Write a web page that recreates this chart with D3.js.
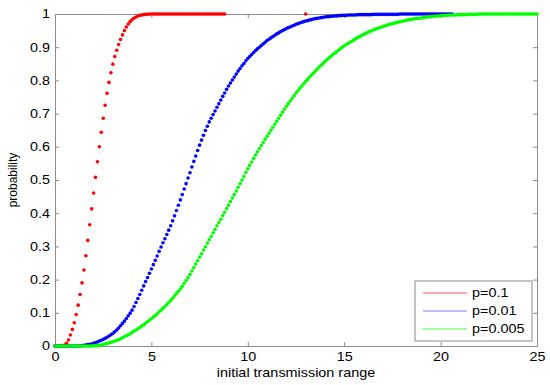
<!DOCTYPE html>
<html>
<head>
<meta charset="utf-8">
<script src="https://cdn.jsdelivr.net/npm/d3@7"></script>
<style>
  body { margin: 0; background: #fff; }
  svg { display: block; font-family: 'Liberation Sans', Arial, sans-serif; }
</style>
</head>
<body>
<div id="chart"></div>
<script>
// all three series are sampled every 0.1 along x, starting at 0
const xStep = 0.1;
const xTicks = [0, 5, 10, 15, 20, 25];
const yTicks = [0, 0.1, 0.2, 0.3, 0.4, 0.5, 0.6, 0.7, 0.8, 0.9, 1];
const seriesNames = ['p=0.1', 'p=0.01', 'p=0.005'];

// p=0.1 (null = no sample drawn)
const red = [
  0, 0, 0, 0, 0.001, 0.003, 0.008, 0.018, 0.033, 0.050,
  0.070, 0.095, 0.123, 0.155, 0.190, 0.229, 0.272, 0.318, 0.365, 0.413,
  0.461, 0.508, 0.555, 0.600, 0.644, 0.686, 0.725, 0.761, 0.794, 0.823,
  0.849, 0.872, 0.891, 0.908, 0.923, 0.937, 0.950, 0.961, 0.970, 0.977,
  0.983, 0.988, 0.991, 0.994, 0.996, 0.997, 0.998, 0.999, 0.999, 1,
  1, 1, 1, 1, 1, 1, 1, 1, 1, 1,
  1, 1, 1, 1, 1, 1, 1, 1, 1, 1,
  1, 1, 1, 1, 1, 1, 1, 1, 1, 1,
  1, 1, 1, 1, 1, 1, 1, 1, 1, null,
  null, null, null, null, null, null, null, null, null, null,
  null, null, null, null, null, null, null, null, null, null,
  null, null, null, null, null, null, null, null, null, null,
  null, null, null, null, null, null, null, null, null, null,
  1
];

// p=0.01
const blue = [
  0, 0, 0, 0, 0, 0, 0, 0, 0, 0,
  0, 0, 0, 0, 0.001, 0.002, 0.003, 0.004, 0.005, 0.006,
  0.008, 0.010, 0.012, 0.015, 0.017, 0.020, 0.023, 0.026, 0.030, 0.034,
  0.038, 0.043, 0.048, 0.054, 0.061, 0.068, 0.075, 0.083, 0.091, 0.099,
  0.108, 0.119, 0.131, 0.143, 0.155, 0.168, 0.181, 0.194, 0.206, 0.219,
  0.232, 0.245, 0.258, 0.271, 0.285, 0.298, 0.311, 0.323, 0.336, 0.349,
  0.362, 0.377, 0.392, 0.408, 0.424, 0.440, 0.456, 0.473, 0.489, 0.506,
  0.522, 0.539, 0.556, 0.572, 0.589, 0.605, 0.620, 0.635, 0.649, 0.662,
  0.675, 0.686, 0.697, 0.708, 0.719, 0.730, 0.741, 0.752, 0.762, 0.773,
  0.783, 0.792, 0.801, 0.810, 0.819, 0.828, 0.836, 0.844, 0.851, 0.859,
  0.866, 0.872, 0.878, 0.884, 0.890, 0.895, 0.900, 0.905, 0.910, 0.915,
  0.920, 0.924, 0.928, 0.932, 0.936, 0.940, 0.943, 0.947, 0.950, 0.953,
  0.956, 0.959, 0.961, 0.964, 0.966, 0.969, 0.971, 0.973, 0.975, 0.977,
  0.979, 0.980, 0.982, 0.983, 0.985, 0.986, 0.987, 0.988, 0.989, 0.990,
  0.991, 0.992, 0.992, 0.993, 0.993, 0.994, 0.994, 0.995, 0.995, 0.996,
  0.996, 0.996, 0.997, 0.997, 0.997, 0.997, 0.997, 0.998, 0.998, 0.998,
  0.998, 0.998, 0.998, 0.998, 0.998, 0.999, 0.999, 0.999, 0.999, 0.999,
  0.999, 0.999, 0.999, 0.999, 0.999, 0.999, 0.999, 0.999, 0.999, 1,
  1, 1, 1, 1, 1, 1, 1, 1, 1, 1,
  1, 1, 1, 1, 1, 1, 1, 1, 1, 1,
  1, 1, 1, 1, 1, 1, 1
];

// p=0.005
const green = [
  0, 0, 0, 0, 0, 0, 0, 0, 0, 0,
  0, 0, 0, 0, 0, 0, 0, 0, 0, 0,
  0.001, 0.001, 0.002, 0.002, 0.003, 0.005, 0.006, 0.008, 0.009, 0.011,
  0.013, 0.015, 0.017, 0.019, 0.022, 0.025, 0.028, 0.031, 0.034, 0.037,
  0.041, 0.045, 0.048, 0.052, 0.056, 0.060, 0.064, 0.069, 0.073, 0.078,
  0.082, 0.087, 0.092, 0.097, 0.103, 0.108, 0.114, 0.119, 0.125, 0.131,
  0.137, 0.144, 0.151, 0.158, 0.165, 0.172, 0.180, 0.189, 0.197, 0.206,
  0.215, 0.226, 0.236, 0.247, 0.257, 0.268, 0.278, 0.289, 0.299, 0.310,
  0.320, 0.330, 0.341, 0.351, 0.362, 0.372, 0.382, 0.393, 0.403, 0.414,
  0.424, 0.435, 0.446, 0.456, 0.467, 0.478, 0.489, 0.500, 0.511, 0.523,
  0.534, 0.544, 0.554, 0.565, 0.575, 0.585, 0.594, 0.604, 0.613, 0.623,
  0.632, 0.641, 0.650, 0.659, 0.668, 0.677, 0.686, 0.695, 0.704, 0.713,
  0.722, 0.730, 0.738, 0.746, 0.754, 0.762, 0.769, 0.776, 0.783, 0.790,
  0.797, 0.803, 0.810, 0.816, 0.822, 0.828, 0.834, 0.840, 0.846, 0.851,
  0.857, 0.862, 0.867, 0.872, 0.877, 0.882, 0.886, 0.891, 0.895, 0.900,
  0.904, 0.908, 0.911, 0.915, 0.918, 0.922, 0.925, 0.929, 0.932, 0.935,
  0.938, 0.941, 0.944, 0.947, 0.949, 0.952, 0.954, 0.956, 0.958, 0.960,
  0.962, 0.964, 0.966, 0.968, 0.970, 0.971, 0.973, 0.974, 0.976, 0.977,
  0.978, 0.979, 0.981, 0.982, 0.983, 0.984, 0.985, 0.986, 0.987, 0.987,
  0.988, 0.989, 0.990, 0.991, 0.991, 0.992, 0.993, 0.993, 0.994, 0.994,
  0.995, 0.995, 0.996, 0.996, 0.996, 0.997, 0.997, 0.997, 0.997, 0.998,
  0.998, 0.998, 0.998, 0.998, 0.999, 0.999, 0.999, 0.999, 0.999, 0.999,
  1, 1, 1, 1, 1, 1, 1, 1, 1, 1,
  1, 1, 1, 1, 1, 1, 1, 1, 1, 1,
  1, 1, 1, 1, 1, 1, 1, 1, 1, 1,
  1
];

const width = 550;
const height = 385;
const margin = { top: 14, right: 13, bottom: 39, left: 55 };
const stretchX = 1.2; // text in the source looks widened

const dotColors = ['#ff0000', '#0000ff', '#00ff00'];
const legendColors = ['#ff8f8f', '#a6a6ff', '#7fff7f'];
const frameColor = '#8c8c8c';

const svg = d3.select('#chart')
  .append('svg')
  .attr('width', width)
  .attr('height', height);

const x = d3.scaleLinear()
  .domain([0, 25])
  .range([margin.left, width - margin.right]);
const y = d3.scaleLinear()
  .domain([0, 1])
  .range([height - margin.bottom, margin.top]);

// stretch a text horizontally around its own x anchor
function stretch(sel) {
  sel.each(function eachText() {
    const t = d3.select(this);
    const ax = +(t.attr('x') || 0);
    t.attr('transform', `translate(${ax},0) scale(${stretchX},1) translate(${-ax},0)`);
  });
}

// frame + inward ticks on all four sides
const bottomAxis = svg.append('g')
  .attr('transform', `translate(0,${y(0)})`)
  .call(d3.axisBottom(x).tickValues(xTicks).tickSizeInner(-4).tickSizeOuter(0).tickPadding(6));
const topAxis = svg.append('g')
  .attr('transform', `translate(0,${y(1)})`)
  .call(d3.axisTop(x).tickValues(xTicks).tickFormat('').tickSizeInner(-4).tickSizeOuter(0));
const leftAxis = svg.append('g')
  .attr('transform', `translate(${x(0)},0)`)
  .call(d3.axisLeft(y).tickValues(yTicks).tickFormat((d) => String(d)).tickSizeInner(-4).tickSizeOuter(0).tickPadding(5));
const rightAxis = svg.append('g')
  .attr('transform', `translate(${x(25)},0)`)
  .call(d3.axisRight(y).tickValues(yTicks).tickFormat('').tickSizeInner(-4).tickSizeOuter(0));

[bottomAxis, topAxis, leftAxis, rightAxis].forEach((a) => {
  a.attr('color', frameColor);
  a.selectAll('text')
    .attr('fill', '#000')
    .style('font-size', '12px')
    .style('font-family', "'Liberation Sans', Arial, sans-serif");
});
bottomAxis.selectAll('text').call(stretch);
leftAxis.selectAll('text').call(stretch);

// axis titles
svg.append('text')
  .attr('x', (x(0) + x(25)) / 2)
  .attr('y', 377)
  .attr('text-anchor', 'middle')
  .style('font-size', '12px')
  .text('initial transmission range')
  .call(stretch);

svg.append('text')
  .attr('transform', `translate(17,${(y(0) + y(1)) / 2}) rotate(-90)`)
  .attr('text-anchor', 'middle')
  .style('font-size', '12px')
  .text('probability');

// dots
const allSeries = [red, blue, green];
allSeries.forEach((vals, si) => {
  const pts = vals
    .map((v, i) => ({ x: i * xStep, y: v }))
    .filter((d) => d.y !== null);
  svg.append('g')
    .selectAll('circle')
    .data(pts)
    .enter()
    .append('circle')
    .attr('cx', (d) => x(d.x))
    .attr('cy', (d) => y(d.y))
    .attr('r', 1.8)
    .attr('fill', dotColors[si]);
});

// legend
const legend = svg.append('g').attr('transform', 'translate(415,281)');
legend.append('rect')
  .attr('width', 117)
  .attr('height', 60)
  .attr('fill', '#fff')
  .attr('stroke', frameColor);

const rows = legend.selectAll('.row')
  .data(seriesNames)
  .enter()
  .append('g')
  .attr('class', 'row')
  .attr('transform', (d, i) => `translate(0,${12 + i * 18})`);
rows.append('line')
  .attr('x1', 8)
  .attr('x2', 52)
  .attr('stroke', (d, i) => legendColors[i])
  .attr('stroke-width', 1.5);
rows.append('text')
  .attr('x', 57)
  .attr('y', 4)
  .style('font-size', '12px')
  .text((d) => d)
  .call(stretch);
</script>
</body>
</html>
